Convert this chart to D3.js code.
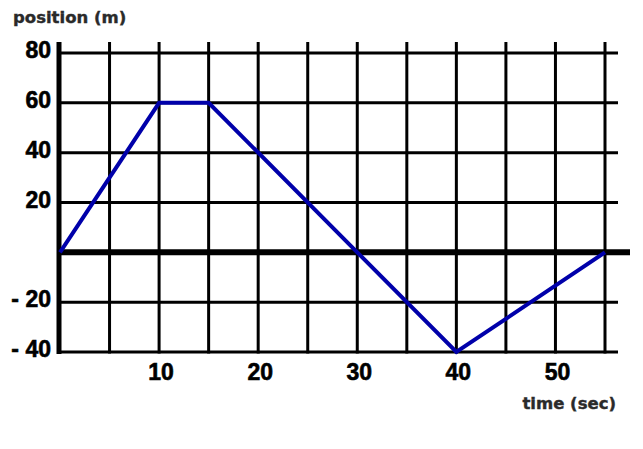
<!DOCTYPE html>
<html>
<head>
<meta charset="utf-8">
<script src="https://cdn.jsdelivr.net/npm/d3@7"></script>
<style>
  html, body { margin: 0; padding: 0; background: #fff; }
  svg { display: block; }
</style>
</head>
<body>
<div id="chart"></div>
<script>
// ---- data ----
const times = [0, 10, 15, 30, 40, 55];
const positions = [0, 60, 60, 0, -40, 0];
const xTicks = [10, 20, 30, 40, 50];
const xGrid = [5, 10, 15, 20, 25, 30, 35, 40, 45, 50, 55];
const yTicks = [80, 60, 40, 20, -20, -40];
const yTickLabels = ["80", "60", "40", "20", "- 20", "- 40"];
const yGrid = [80, 60, 40, 20, -20, -40];
const xTitle = "time (sec)";
const yTitle = "position (m)";

const W = 643, H = 449;
const svg = d3.select("#chart").append("svg").attr("width", W).attr("height", H);

const x = d3.scaleLinear().domain([0, 55]).range([60, 605]);
const y = d3.scaleLinear().domain([-40, 80]).range([352, 53]);

const gridRight = 618;
const gridTop = 42;

// horizontal grid
svg.append("g").selectAll("line").data(yGrid).join("line")
  .attr("x1", x(0)).attr("x2", gridRight)
  .attr("y1", d => y(d)).attr("y2", d => y(d))
  .attr("stroke", "#000").attr("stroke-width", 3);

// vertical grid
svg.append("g").selectAll("line").data(xGrid).join("line")
  .attr("x1", d => x(d)).attr("x2", d => x(d))
  .attr("y1", gridTop).attr("y2", y(-40) + 1.5)
  .attr("stroke", "#000").attr("stroke-width", 3);

// zero line
svg.append("line")
  .attr("x1", x(0)).attr("x2", 630)
  .attr("y1", y(0)).attr("y2", y(0))
  .attr("stroke", "#000").attr("stroke-width", 6);

// y axis line
svg.append("line")
  .attr("x1", x(0) - 1).attr("x2", x(0) - 1)
  .attr("y1", gridTop).attr("y2", y(-40) + 2)
  .attr("stroke", "#000").attr("stroke-width", 5);

// data line
const line = d3.line().x((d, i) => x(times[i])).y(d => y(d));
svg.append("path").datum(positions)
  .attr("d", line)
  .attr("fill", "none")
  .attr("stroke", "#0000aa")
  .attr("stroke-width", 4)
  .attr("stroke-linejoin", "miter");

// y tick labels
svg.append("g").selectAll("text").data(yTicks).join("text")
  .attr("x", 51)
  .attr("y", d => y(d) + 5)
  .attr("text-anchor", "end")
  .attr("font-family", "'Liberation Sans', Arial, sans-serif")
  .attr("font-weight", "bold")
  .attr("font-size", 23)
  .attr("fill", "#000")
  .attr("stroke", "#000").attr("stroke-width", 0.6)
  .text((d, i) => yTickLabels[i]);

// x tick labels
svg.append("g").selectAll("text").data(xTicks).join("text")
  .attr("x", d => x(d) + 2)
  .attr("y", 380)
  .attr("text-anchor", "middle")
  .attr("font-family", "'Liberation Sans', Arial, sans-serif")
  .attr("font-weight", "bold")
  .attr("font-size", 23)
  .attr("fill", "#000")
  .attr("stroke", "#000").attr("stroke-width", 0.6)
  .text(d => d);

// titles
svg.append("text")
  .attr("x", 13).attr("y", 23)
  .attr("font-family", "'DejaVu Sans', Verdana, sans-serif")
  .attr("font-weight", "bold")
  .attr("font-size", 16.5)
  .attr("fill", "#2a2a2a")
  .attr("stroke", "#2a2a2a").attr("stroke-width", 0.4)
  .text(yTitle);

svg.append("text")
  .attr("x", 616).attr("y", 409)
  .attr("text-anchor", "end")
  .attr("font-family", "'DejaVu Sans', Verdana, sans-serif")
  .attr("font-weight", "bold")
  .attr("font-size", 16.5)
  .attr("fill", "#2a2a2a")
  .attr("stroke", "#2a2a2a").attr("stroke-width", 0.4)
  .text(xTitle);
</script>
</body>
</html>
